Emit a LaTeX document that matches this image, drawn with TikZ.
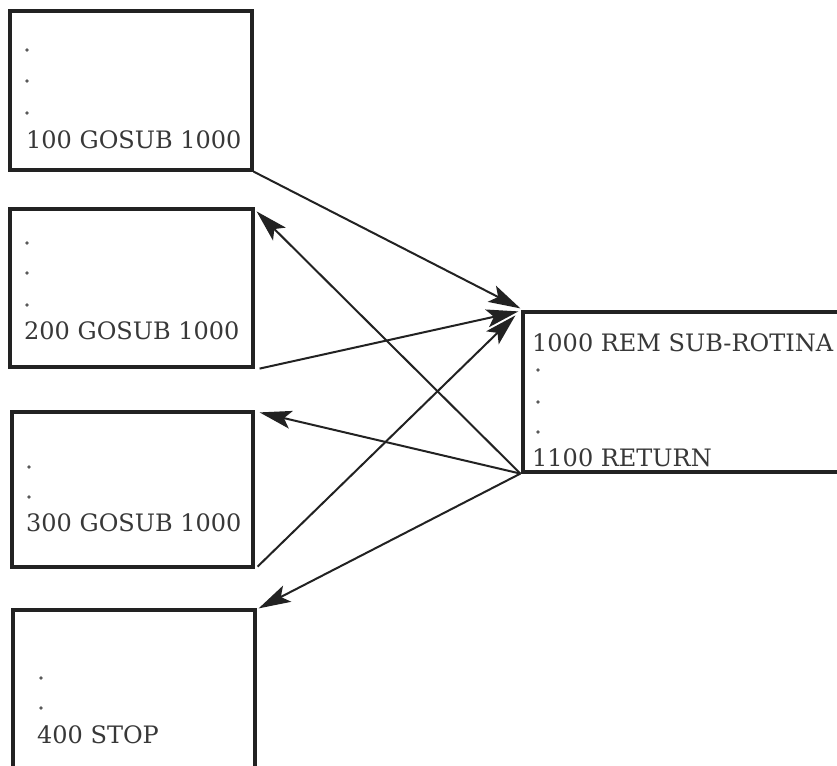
\documentclass[tikz,border=0pt]{standalone}
\usepackage{fontspec}
\setmainfont{DejaVu Serif}
\usetikzlibrary{arrows.meta}
\definecolor{ink}{HTML}{222222}
\definecolor{txt}{HTML}{383838}
\tikzset{
  prog/.style={draw=ink, line width=3.2pt, rectangle, inner sep=0pt},
  code/.style={anchor=base west, inner sep=0pt, text=txt, font=\fontsize{24}{28}\selectfont},
  flow/.style={draw=ink, line width=2pt, -{Stealth[length=32pt,width=18pt,inset=7pt]}},
  dotm/.style={fill=gray!70!black}
}
\begin{document}
\begin{tikzpicture}[x=1pt,y=-1pt]
\useasboundingbox (0,0) rectangle (837,765);
\clip (0,0) rectangle (837,765);
\fill[white] (0,0) rectangle (837,765);
% boxes
\node[prog, minimum width=242pt, minimum height=159pt] (b1) at (131,90.5) {};
\node[prog, minimum width=243pt, minimum height=158pt] (b2) at (131.5,288) {};
\node[prog, minimum width=241pt, minimum height=155pt] (b3) at (132.5,489.5) {};
\node[prog, minimum width=242pt, minimum height=200pt] (b4) at (134,710) {};
\node[prog, minimum width=360pt, minimum height=160pt] (sub) at (703,392) {};
% texts
\node[code] (t1) at (26,148) {100 GOSUB 1000};
\node[code] (t2) at (24,339) {200 GOSUB 1000};
\node[code] (t3) at (26,531) {300 GOSUB 1000};
\node[code] (t4) at (37,743) {400 STOP};
\node[code] (t5) at (532,351) {1000 REM SUB-ROTINA};
\node[code] (t6) at (532,466) {1100 RETURN};
% dots
\foreach \p in {(27,50),(27,81),(27,113),(27,243),(27,273),(27,305),(29,467),(29,497),(41,678),(41,708),(538,370),(538,402),(538,432)}
  \fill[dotm] \p circle (1.8pt);
% connectors
\coordinate (in1) at ([xshift=-1pt,yshift=2pt]sub.north west);
\coordinate (in2) at ([xshift=-3pt,yshift=-1pt]sub.north west);
\coordinate (in3) at ([xshift=-6pt,yshift=-5pt]sub.north west);
\coordinate (out) at ([xshift=-1pt]sub.south west);
\draw[flow] (b1.south east) -- (in1);
\draw[flow] ([xshift=5pt]b2.south east) -- (in2);
\draw[flow] ([xshift=3pt,yshift=2pt]b3.south east) -- (in3);
\draw[flow] (out) -- ([xshift=2pt,yshift=-4pt]b2.north east);
\draw[flow] (out) -- ([xshift=5pt,yshift=-2pt]b3.north east);
\draw[flow] (out) -- ([xshift=2pt]b4.north east);
\end{tikzpicture}
\end{document}
